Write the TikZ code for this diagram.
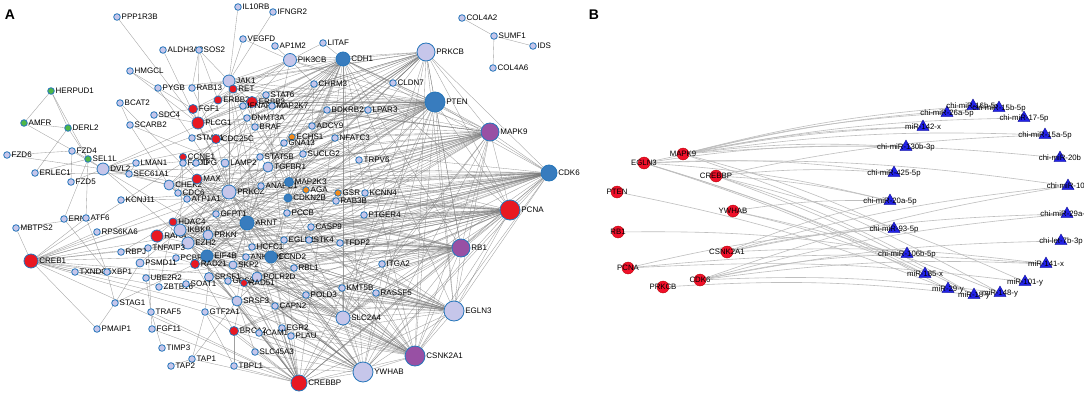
\documentclass[tikz,border=0pt]{standalone}
\usepackage{fontspec}
\setmainfont{Liberation Sans}
\usetikzlibrary{shapes.geometric}
\pgfdeclarelayer{bg}
\pgfsetlayers{bg,main}
\definecolor{lavfill}{RGB}{198,198,234}
\definecolor{redfill}{RGB}{232,24,34}
\definecolor{bluefill}{RGB}{56,124,190}
\definecolor{purpfill}{RGB}{152,80,164}
\definecolor{greenfill}{RGB}{78,182,72}
\definecolor{orangefill}{RGB}{240,138,28}
\definecolor{nodeedge}{RGB}{38,118,186}
\definecolor{edgegray}{RGB}{120,120,120}
\definecolor{bedge}{RGB}{190,190,190}
\definecolor{bred}{RGB}{240,16,42}
\definecolor{btri}{RGB}{34,34,232}
\tikzset{
 gnode/.style={circle, inner sep=0pt, line width=0.8pt, draw=nodeedge},
 lav/.style={gnode, fill=lavfill},
 rd/.style={gnode, fill=redfill},
 bl/.style={gnode, fill=bluefill},
 pu/.style={gnode, fill=purpfill},
 gr/.style={gnode, fill=greenfill},
 og/.style={gnode, fill=orangefill},
 sz/.style={minimum size=#1},
 lbl/.style={font=\fontsize{8}{8}\selectfont, inner sep=0.8pt, text=black},
 edge/.style={draw=edgegray, line width=0.35pt, draw opacity=0.7},
 bedgestyle/.style={draw=bedge, line width=0.6pt},
 redb/.style={circle, inner sep=0pt, minimum size=12pt, fill=bred, draw=red!70!black, line width=0.3pt},
 trib/.style={regular polygon, regular polygon sides=3, inner sep=0pt, minimum size=14pt, fill=btri, draw=blue!50!black, line width=0.3pt},
 blbl/.style={font=\fontsize{7.8}{8}\selectfont, inner sep=0pt, text=black},
 panel/.style={font=\fontsize{14}{14}\selectfont\bfseries, inner sep=0pt},
}
\newcommand\gn[5]{\node[#1,sz=#5,label={[lbl]right:#2}] (#2) at (#3,#4) {};}
\newcommand\rn[4]{\node[redb,label={[blbl]center:#2}] (#1) at (#3,#4) {};}
\newcommand\tn[4]{\node[trib,label={[blbl]center:#2}] (#1) at (#3,#4) {};}
\begin{document}
\begin{tikzpicture}[x=1pt,y=-1pt]
\useasboundingbox (0,0) rectangle (1084,396);
\node[panel] (labA) at (10,15) {A};
\node[panel] (labB) at (594,15) {B};
% ---------------- Panel A nodes ----------------
\gn{lav}{PPP1R3B}{117}{17}{6.6}
\gn{lav}{IL10RB}{238}{7}{6.6}
\gn{lav}{IFNGR2}{273}{12}{6.6}
\gn{lav}{ALDH3A2}{163}{50}{6.6}
\gn{lav}{SOS2}{199}{50}{6.6}
\gn{lav}{VEGFD}{243}{39}{6.6}
\gn{lav}{AP1M2}{275}{46}{6.6}
\gn{lav}{LITAF}{323}{43}{6.6}
\gn{lav}{PIK3CB}{290}{60}{13}
\gn{bl}{CDH1}{343}{59}{14}
\gn{lav}{PRKCB}{426}{52}{18}
\gn{lav}{COL4A2}{462}{18}{6.6}
\gn{lav}{SUMF1}{494}{36}{6.6}
\gn{lav}{IDS}{533}{46}{6.6}
\gn{lav}{COL4A6}{493}{68}{6.6}
\gn{lav}{HMGCL}{130}{71}{6.6}
\gn{lav}{JAK1}{229}{81}{12}
\gn{lav}{CHRM3}{314}{84}{6.6}
\gn{lav}{CLDN7}{393}{83}{6.6}
\gn{gr}{HERPUD1}{51}{91}{6.6}
\gn{lav}{PYGB}{158}{88}{6.6}
\gn{lav}{RAB13}{192}{88}{6.6}
\gn{rd}{RET}{233}{89}{8}
\gn{lav}{STAT6}{266}{95}{6.6}
\gn{lav}{BCAT2}{120}{103}{6.6}
\gn{rd}{ERBB2}{218}{100}{8}
\gn{rd}{ERBB3}{252}{102}{11}
\gn{lav}{IFNAR1}{243}{106}{6.6}
\gn{lav}{MAP2K7}{272}{106}{6.6}
\gn{lav}{BDKRB2}{327}{110}{6.6}
\gn{lav}{LPAR3}{368}{110}{6.6}
\gn{bl}{PTEN}{435}{102}{20}
\gn{rd}{FGF1}{193}{109}{9}
\gn{lav}{SDC4}{154}{115}{6.6}
\gn{lav}{DNMT3A}{247}{118}{6.6}
\gn{gr}{AMFR}{24}{123}{6.6}
\gn{lav}{SCARB2}{130}{125}{6.6}
\gn{rd}{PLCG1}{198}{123}{12}
\gn{gr}{DERL2}{68}{128}{6.6}
\gn{lav}{BRAF}{255}{127}{6.6}
\gn{lav}{ADCY9}{312}{126}{6.6}
\gn{pu}{MAPK9}{490}{132}{18}
\gn{lav}{STMN1}{192}{138}{6.6}
\gn{rd}{CDC25C}{216}{139}{9}
\gn{og}{ECHS1}{292}{137}{6.6}
\gn{lav}{NFATC3}{335}{138}{6.6}
\gn{lav}{GNA13}{284}{143}{6.6}
\gn{lav}{FZD6}{7}{155}{6.6}
\gn{lav}{FZD4}{72}{151}{6.6}
\gn{gr}{SEL1L}{88}{159}{6.6}
\gn{rd}{CCNE1}{183}{157}{7}
\gn{lav}{SUCLG2}{303}{154}{6.6}
\gn{lav}{STAT5B}{260}{157}{6.6}
\gn{lav}{TRPV6}{359}{160}{6.6}
\gn{lav}{FADD}{183}{163}{6.6}
\gn{lav}{TPG}{196}{163}{6.6}
\gn{lav}{LAMP2}{225}{163}{8}
\gn{lav}{TGFBR1}{268}{167}{10}
\gn{lav}{ERLEC1}{35}{173}{6.6}
\gn{lav}{DVL2}{103}{169}{12}
\gn{lav}{LMAN1}{136}{163}{6.6}
\gn{lav}{SEC61A1}{129}{174}{6.6}
\gn{lav}{FZD5}{71}{182}{6.6}
\gn{lav}{CHEK2}{169}{185}{10}
\gn{rd}{MAX}{197}{179}{10}
\gn{bl}{CDK6}{549}{173}{16}
\gn{lav}{CDC6}{178}{193}{6.6}
\gn{lav}{ATP1A1}{187}{199}{6.6}
\gn{lav}{PRKCZ}{229}{192}{14}
\gn{lav}{ANAPC1}{261}{186}{6.6}
\gn{bl}{MAP2K3}{289}{182}{9}
\gn{og}{AGA}{306}{190}{6.6}
\gn{og}{GSR}{338}{193}{6.6}
\gn{lav}{KCNN4}{365}{193}{6.6}
\gn{bl}{CDKN2B}{288}{198}{8}
\gn{lav}{RAB3B}{336}{201}{6.6}
\gn{lav}{KCNJ11}{121}{200}{6.6}
\gn{rd}{PCNA}{510}{210}{20}
\gn{lav}{GFPT1}{216}{214}{6.6}
\gn{lav}{PCCB}{287}{213}{6.6}
\gn{lav}{PTGER4}{364}{215}{6.6}
\gn{lav}{ERN1}{64}{219}{6.6}
\gn{lav}{ATF6}{86}{218}{6.6}
\gn{rd}{HDAC4}{173}{222}{8}
\gn{bl}{ARNT}{247}{223}{14}
\gn{lav}{MBTPS2}{16}{228}{6.6}
\gn{lav}{CASP9}{311}{227}{6.6}
\gn{lav}{RPS6KA6}{97}{232}{6.6}
\gn{rd}{RARA}{157}{236}{12}
\gn{lav}{IKBKB}{180}{230}{12}
\gn{lav}{PRKN}{208}{235}{10}
\gn{lav}{EZH2}{188}{243}{12}
\gn{lav}{EGLN1}{284}{240}{6.6}
\gn{lav}{STK4}{309}{240}{6.6}
\gn{lav}{TFDP2}{340}{243}{6.6}
\gn{lav}{TNFAIP3}{148}{248}{6.6}
\gn{lav}{RBPJ}{121}{252}{6.6}
\gn{lav}{HCFC1}{252}{247}{6.6}
\gn{pu}{RB1}{461}{248}{18}
\gn{lav}{PCBP2}{176}{258}{6.6}
\gn{bl}{EIF4B}{207}{256}{12}
\gn{lav}{ANKRD1}{246}{257}{6.6}
\gn{bl}{CCND2}{271}{257}{12}
\gn{rd}{CREB1}{31}{261}{14}
\gn{lav}{PSMD11}{140}{263}{8}
\gn{rd}{RAD21}{195}{264}{9}
\gn{lav}{SKP2}{233}{265}{8}
\gn{lav}{ITGA2}{382}{264}{6.6}
\gn{lav}{RBL1}{294}{268}{6.6}
\gn{lav}{TXNDC5}{75}{272}{6.6}
\gn{lav}{XBP1}{107}{272}{6.6}
\gn{lav}{SRSF1}{209}{277}{9}
\gn{lav}{GPS2}{228}{281}{6.6}
\gn{lav}{POLR2D}{257}{277}{10}
\gn{lav}{UBE2R2}{146}{278}{6.6}
\gn{rd}{RAD51}{244}{283}{7}
\gn{lav}{ZBTB16}{159}{287}{6.6}
\gn{lav}{SOAT1}{186}{284}{6.6}
\gn{lav}{KMT5B}{342}{288}{6.6}
\gn{lav}{RASSF5}{376}{293}{6.6}
\gn{lav}{POLD3}{306}{295}{6.6}
\gn{lav}{SRSF3}{237}{301}{10}
\gn{lav}{STAG1}{115}{303}{6.6}
\gn{lav}{CAPN2}{275}{306}{6.6}
\gn{lav}{EGLN3}{454}{311}{20}
\gn{lav}{TRAF5}{151}{312}{6.6}
\gn{lav}{GTF2A1}{205}{312}{6.6}
\gn{lav}{SLC2A4}{343}{318}{14}
\gn{lav}{EGR2}{282}{328}{6.6}
\gn{lav}{PMAIP1}{97}{329}{6.6}
\gn{lav}{FGF11}{152}{329}{6.6}
\gn{rd}{BRCA2}{234}{331}{9}
\gn{lav}{ICAM1}{259}{333}{6.6}
\gn{lav}{PLAU}{291}{336}{6.6}
\gn{lav}{TIMP3}{162}{348}{6.6}
\gn{lav}{SLC45A3}{255}{352}{6.6}
\gn{pu}{CSNK2A1}{415}{356}{20}
\gn{lav}{TAP1}{192}{359}{6.6}
\gn{lav}{TAP2}{171}{366}{6.6}
\gn{lav}{TBPL1}{234}{366}{6.6}
\gn{lav}{YWHAB}{363}{372}{20}
\gn{rd}{CREBBP}{299}{383}{16}
% ---------------- Panel B nodes ----------------
\rn{bMAPK9}{MAPK9}{683}{154}
\rn{bEGLN3}{EGLN3}{644}{163}
\rn{bCREBBP}{CREBBP}{716}{176}
\rn{bPTEN}{PTEN}{617}{192}
\rn{bYWHAB}{YWHAB}{733}{211}
\rn{bRB1}{RB1}{618}{232}
\rn{bCSNK2A1}{CSNK2A1}{727}{252}
\rn{bPCNA}{PCNA}{628}{268}
\rn{bCDK6}{CDK6}{700}{280}
\rn{bPRKCB}{PRKCB}{663}{287}
\tn{m26a}{chi-miR-26a-5p}{947}{113}
\tn{m16b}{chi-miR-16b-5p}{973}{106}
\tn{m15b}{chi-miR-15b-5p}{999}{108}
\tn{m17}{chi-miR-17-5p}{1024}{118}
\tn{m142}{miR-142-x}{923}{127}
\tn{m15a}{chi-miR-15a-5p}{1045}{135}
\tn{m130b}{chi-miR-130b-3p}{906}{147}
\tn{m20b}{chi-miR-20b}{1060}{158}
\tn{m425}{chi-miR-425-5p}{894}{173}
\tn{m10b}{chi-miR-10b}{1068}{186}
\tn{m20a}{chi-miR-20a-5p}{890}{201}
\tn{m29a}{chi-miR-29a-3p}{1067}{214}
\tn{m93}{chi-miR-93-5p}{894}{229}
\tn{let7b}{chi-let-7b-3p}{1061}{241}
\tn{m106b}{chi-miR-106b-5p}{907}{254}
\tn{m141}{miR-141-x}{1046}{264}
\tn{m185}{miR-185-x}{925}{274}
\tn{m101}{miR-101-y}{1025}{282}
\tn{m29y}{miR-29-y}{948}{289}
\tn{m18y}{miR-18-y}{974}{295}
\tn{m148}{miR-148-y}{1000}{293}
% ---------------- Edges ----------------
\begin{pgfonlayer}{bg}
\fill[white] (0,0) rectangle (1084,396);
\foreach \t in {PRKCB,CDH1,MAPK9,CDK6,PCNA,RB1,CLDN7,LPAR3,BDKRB2,PIK3CB,JAK1,ERBB3,ERBB2,PLCG1,PRKCZ,ARNT,TGFBR1,STAT5B,MAP2K3,CDKN2B,EZH2,CREB1,CREBBP,YWHAB,CSNK2A1,EGLN3,SLC2A4,CCND2,EIF4B,IKBKB,HDAC4,MAX,CHEK2,DVL2,ADCY9,CHRM3,KCNN4,GNA13,STAT6,FGF1,RET,DNMT3A,BRAF,CDC25C,PRKN,SRSF3,MAP2K7}
  \draw[edge] (PTEN) -- (\t);
\foreach \t in {CDH1,MAPK9,CLDN7,PIK3CB,JAK1,ERBB3,PLCG1,PRKCZ,TGFBR1,ARNT,CHRM3,ADCY9,GNA13,LAMP2,STAT5B,MAP2K3,EGLN3,PCNA,CDK6,RB1,SLC2A4,YWHAB,CSNK2A1,BRAF,DVL2,EZH2,CCND2,IKBKB,EIF4B,STMN1,RAB13}
  \draw[edge] (PRKCB) -- (\t);
\foreach \t in {PIK3CB,JAK1,ERBB3,ERBB2,PLCG1,PRKCZ,TGFBR1,ARNT,MAP2K3,CDKN2B,EZH2,IKBKB,EIF4B,CCND2,PCNA,RB1,CDK6,MAPK9,EGLN3,SLC2A4,YWHAB,CSNK2A1,CREBBP,CHEK2,MAX,HDAC4,DVL2,CDC25C,SUCLG2,LITAF,CREB1}
  \draw[edge] (CDH1) -- (\t);
\foreach \t in {CDK6,PCNA,RB1,PRKCZ,ARNT,JAK1,ERBB3,PLCG1,TGFBR1,STAT5B,MAP2K3,MAP2K7,CDKN2B,EZH2,IKBKB,EIF4B,CCND2,CREB1,CHEK2,MAX,DVL2,HDAC4,CDC25C,TRPV6,NFATC3,EGLN3,SLC2A4,YWHAB,CSNK2A1,CREBBP,KCNN4,GSR,PCCB,CASP9,STK4,ANAPC1}
  \draw[edge] (MAPK9) -- (\t);
\foreach \t in {PCNA,RB1,CCND2,ARNT,PRKCZ,EZH2,IKBKB,EIF4B,CHEK2,MAX,HDAC4,CDC6,CDC25C,CDKN2B,TGFBR1,MAP2K3,SKP2,RAD21,RAD51,BRCA2,RBL1,TFDP2,PCCB,PTGER4,CASP9,STK4,EGLN1,HCFC1,CREB1,CREBBP,YWHAB,CSNK2A1,EGLN3,SLC2A4,ANAPC1,GFPT1,DVL2,KCNN4,RAB3B}
  \draw[edge] (CDK6) -- (\t);
\foreach \t in {RB1,ARNT,PRKCZ,EZH2,IKBKB,EIF4B,CCND2,CHEK2,MAX,HDAC4,CDC6,CDC25C,RAD21,RAD51,BRCA2,SKP2,POLD3,POLR2D,RBL1,TFDP2,STK4,PTGER4,CASP9,CREB1,CREBBP,YWHAB,CSNK2A1,EGLN3,SLC2A4,SRSF3,CDKN2B,MAP2K3,ATP1A1,RARA,PRKN,HCFC1,ITGA2}
  \draw[edge] (PCNA) -- (\t);
\foreach \t in {ARNT,PRKCZ,EZH2,IKBKB,EIF4B,CCND2,CHEK2,MAX,HDAC4,CDC6,RAD21,RAD51,BRCA2,SKP2,POLD3,RBL1,TFDP2,STK4,EGLN1,CREB1,CREBBP,YWHAB,CSNK2A1,EGLN3,SLC2A4,SRSF3,SRSF1,KMT5B,RASSF5,ITGA2,PCCB,CAPN2,RARA}
  \draw[edge] (RB1) -- (\t);
\foreach \t in {ARNT,PRKCZ,EZH2,IKBKB,EIF4B,CCND2,HDAC4,MAX,CREB1,CREBBP,YWHAB,CSNK2A1,SLC2A4,SRSF3,POLR2D,RAD51,SKP2,KMT5B,RASSF5,ITGA2,POLD3,EGLN1,STK4,CAPN2,SRSF1,TNFAIP3,HCFC1,PLAU}
  \draw[edge] (EGLN3) -- (\t);
\foreach \t in {YWHAB,CREBBP,SLC2A4,ARNT,PRKCZ,EZH2,IKBKB,EIF4B,CCND2,CREB1,HDAC4,MAX,SRSF3,SRSF1,POLR2D,RAD51,CAPN2,EGR2,PLAU,KMT5B,RASSF5,ITGA2,CHEK2,TGFBR1,JAK1,DVL2}
  \draw[edge] (CSNK2A1) -- (\t);
\foreach \t in {CREBBP,SLC2A4,ARNT,PRKCZ,EZH2,IKBKB,EIF4B,CCND2,HDAC4,MAX,SRSF3,BRCA2,RAD51,CAPN2,EGR2,PLAU,KMT5B,POLD3,SLC45A3,TBPL1,ICAM1,CHEK2,ERBB3,GTF2A1}
  \draw[edge] (YWHAB) -- (\t);
\foreach \t in {SLC2A4,ARNT,PRKCZ,EZH2,IKBKB,EIF4B,CCND2,HDAC4,MAX,SRSF3,BRCA2,RAD51,CAPN2,EGR2,PLAU,SLC45A3,TBPL1,ICAM1,GTF2A1,TAP1,JAK1,STAT6,CREB1,TRAF5,FGF11,SKP2}
  \draw[edge] (CREBBP) -- (\t);
\foreach \t in {PRKCZ,ARNT,EZH2,EIF4B,CCND2,IKBKB,KMT5B,POLD3,CAPN2,RASSF5,SRSF3}
  \draw[edge] (SLC2A4) -- (\t);
\foreach \t in {EZH2,IKBKB,HDAC4,MAX,CHEK2,EIF4B,CCND2,TGFBR1,STAT5B,JAK1,ERBB3,PLCG1,SRSF3,SKP2,RAD21,HCFC1,PRKN,CDC6}
  \draw[edge] (ARNT) -- (\t);
\foreach \t in {EZH2,IKBKB,HDAC4,MAX,CHEK2,EIF4B,CCND2,TGFBR1,JAK1,ERBB3,PLCG1,ATP1A1,LAMP2,STAT5B,ANAPC1,GFPT1,MAP2K3,CDC25C,KCNJ11}
  \draw[edge] (PRKCZ) -- (\t);
\foreach \a/\b in {JAK1/STAT6,JAK1/PIK3CB,JAK1/STAT5B,JAK1/ERBB3,JAK1/PLCG1,JAK1/IL10RB,JAK1/IFNGR2,JAK1/VEGFD,JAK1/SOS2,JAK1/RAB13,JAK1/IFNAR1,PIK3CB/VEGFD,PIK3CB/AP1M2,PIK3CB/LITAF,PIK3CB/CHRM3,PIK3CB/ERBB3,PIK3CB/PLCG1,PIK3CB/ERBB2,PIK3CB/FGF1,PIK3CB/TGFBR1,PIK3CB/MAPK9,ERBB3/ERBB2,ERBB2/RET,ERBB2/FGF1,FGF1/PLCG1,PLCG1/ERBB3,PLCG1/SOS2,PLCG1/PPP1R3B,PLCG1/SDC4,PLCG1/HMGCL,FGF1/SDC4,ALDH3A2/PLCG1,SOS2/RAB13,SOS2/ERBB2,HMGCL/FGF1,PYGB/PRKCZ,PYGB/JAK1,BCAT2/MAX,BCAT2/SCARB2,SCARB2/LAMP2,SCARB2/CHEK2,RAB13/CDC25C,RET/STAT6,DNMT3A/EZH2,DNMT3A/BRAF,BRAF/MAP2K3,BRAF/ERBB3,CHRM3/ADCY9,CHRM3/GNA13,BDKRB2/ADCY9,BDKRB2/GNA13,LPAR3/GNA13,LPAR3/ADCY9,CLDN7/CDH1,ADCY9/GNA13,ECHS1/SUCLG2,ECHS1/PCCB,AGA/GSR,GSR/PCCB,SUCLG2/PCCB,NFATC3/TRPV6,NFATC3/PRKCZ,TRPV6/KCNN4,KCNN4/PTGER4,RAB3B/CDKN2B,MAP2K3/MAP2K7,MAP2K7/MAPK9,STAT5B/TGFBR1,TGFBR1/SKP2,ANAPC1/CDC25C,CDKN2B/CCND2,CCND2/EIF4B,CCND2/SKP2,CCND2/RBL1,CCND2/TFDP2,HCFC1/EZH2,STK4/CASP9,EGLN1/ARNT,CASP9/PTGER4}
  \draw[edge] (\a) -- (\b);
\foreach \a/\b in {COL4A2/SUMF1,SUMF1/IDS,SUMF1/COL4A6,HERPUD1/AMFR,HERPUD1/DERL2,HERPUD1/SEL1L,AMFR/DERL2,AMFR/SEL1L,DERL2/SEL1L,DERL2/ERLEC1,SEL1L/ERLEC1,SEL1L/ERN1,SEL1L/ATF6,SEL1L/DVL2,FZD6/FZD4,FZD6/DVL2,FZD4/DVL2,FZD5/DVL2,FZD4/FZD5,ERLEC1/SEC61A1,DVL2/LMAN1,DVL2/SEC61A1,LMAN1/SEC61A1,SEC61A1/CHEK2,DVL2/PRKCZ,DVL2/CHEK2,DVL2/MAX,DVL2/EZH2,ATF6/ERN1,ATF6/MBTPS2,ATF6/XBP1,ERN1/XBP1,ATF6/CREB1,CREB1/XBP1,CREB1/TXNDC5,TXNDC5/XBP1,CREB1/RPS6KA6,CREB1/PMAIP1,CREB1/PRKCZ,CREB1/EZH2,CREB1/HDAC4,CREB1/SRSF3,CREB1/POLR2D,CREB1/GTF2A1,CREB1/MBTPS2,KCNJ11/ATP1A1,RBPJ/EZH2,RBPJ/HDAC4,TNFAIP3/IKBKB,TNFAIP3/TRAF5,PSMD11/IKBKB,PSMD11/SKP2,UBE2R2/SKP2,UBE2R2/TRAF5,ZBTB16/HDAC4,STAG1/RAD21,STAG1/PSMD11,STAG1/XBP1,PMAIP1/STAG1,FGF11/TRAF5,TIMP3/TRAF5,TAP1/TAP2,TAP1/GTF2A1,TAP1/SRSF3,TBPL1/GTF2A1,TBPL1/BRCA2,BRCA2/RAD51,BRCA2/RAD21,GTF2A1/SRSF1,SLC45A3/SRSF3,ICAM1/EZH2,PLAU/EGR2,RARA/HDAC4,RARA/EZH2,IKBKB/PRKN,EIF4B/SRSF1,POLR2D/GPS2,SOAT1/SRSF3,PCBP2/RAD21,HDAC4/MAX,CHEK2/CDC25C,CHEK2/CDC6,MAX/CCNE1,CCNE1/CDC6,STMN1/CDC25C,FADD/IKBKB,TPG/ERBB3,GFPT1/ARNT,SKP2/RAD21,RAD21/RAD51,SRSF3/SRSF1}
  \draw[edge] (\a) -- (\b);
% panel B edges
\foreach \a/\b in {bMAPK9/m26a,bMAPK9/m16b,bMAPK9/m15b,bMAPK9/m17,bMAPK9/m142,bMAPK9/m15a,bMAPK9/m130b,bMAPK9/m20b,bMAPK9/m93,bMAPK9/m148,bEGLN3/m142,bEGLN3/m130b,bEGLN3/m425,bEGLN3/m20a,bEGLN3/m185,bEGLN3/m29y,bEGLN3/m18y,bEGLN3/m10b,bCREBBP/m425,bCREBBP/m20a,bCREBBP/m106b,bCREBBP/m101,bCREBBP/m18y,bCREBBP/m15a,bPTEN/m29y,bYWHAB/m20a,bYWHAB/m148,bYWHAB/m185,bRB1/m106b,bCSNK2A1/m10b,bCSNK2A1/m93,bCSNK2A1/m141,bCSNK2A1/m29a,bCSNK2A1/m20a,bPCNA/m93,bPCNA/m141,bPCNA/m101,bCDK6/m29a,bCDK6/let7b,bCDK6/m141,bCDK6/m10b,bCDK6/m106b,bCDK6/m148,bPRKCB/m18y}
  \draw[bedgestyle] (\a) to[bend left=5] (\b);
\end{pgfonlayer}
\end{tikzpicture}
\end{document}
